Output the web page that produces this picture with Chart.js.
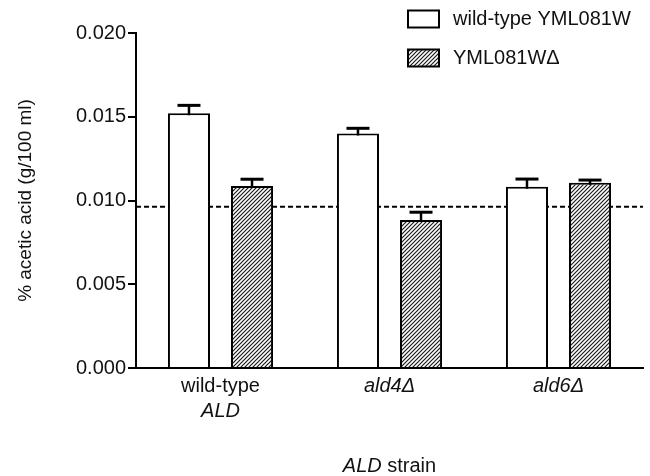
<!DOCTYPE html>
<html>
<head>
<meta charset="utf-8">
<script src="https://cdn.jsdelivr.net/npm/chart.js@4/dist/chart.umd.min.js"></script>
<style>
html,body{margin:0;padding:0;background:#fff;}
#wrap{width:650px;height:476px;position:relative;}
</style>
</head>
<body>
<div id="wrap"><canvas id="c" width="650" height="476"></canvas></div>
<script>
// ---- data ----
const categories = [['wild-type', 'ALD'], ['ald4Δ'], ['ald6Δ']];
const seriesNames = ['wild-type YML081W', 'YML081WΔ'];
const wildTypeValues = [0.01521, 0.01400, 0.01082];
const wildTypeErrors = [0.00047, 0.00031, 0.00046];
const deletionValues = [0.01087, 0.00884, 0.01106];
const deletionErrors = [0.00040, 0.00046, 0.00016];
const referenceLevel = 0.00963;
const yTickValues = [0.000, 0.005, 0.010, 0.015, 0.020];
const yTitle = '% acetic acid (g/100 ml)';
const xTitleParts = ['ALD', ' strain'];

const FAMILY = '"Liberation Sans", Arial, Helvetica, sans-serif';

function makeHatch() {
  const s = 4;
  const c = document.createElement('canvas');
  c.width = s; c.height = s;
  const g = c.getContext('2d');
  g.fillStyle = '#fff';
  g.fillRect(0, 0, s, s);
  g.strokeStyle = '#1a1a1a';
  g.lineWidth = 1.2;
  g.beginPath();
  g.moveTo(-1, 1); g.lineTo(1, -1);
  g.moveTo(0, s); g.lineTo(s, 0);
  g.moveTo(s - 1, s + 1); g.lineTo(s + 1, s - 1);
  g.stroke();
  return g.createPattern(c, 'repeat');
}

const ctx = document.getElementById('c').getContext('2d');
const hatch = makeHatch();
const errorSets = [wildTypeErrors, deletionErrors];

const overlay = {
  id: 'overlay',
  beforeDatasetsDraw(chart) {
    const { ctx, chartArea, scales } = chart;
    const y = scales.y.getPixelForValue(referenceLevel);
    ctx.save();
    ctx.strokeStyle = '#000';
    ctx.lineWidth = 2;
    ctx.setLineDash([5, 3]);
    ctx.beginPath();
    ctx.moveTo(chartArea.left, y);
    ctx.lineTo(chartArea.right, y);
    ctx.stroke();
    ctx.restore();
  },
  afterDatasetsDraw(chart) {
    const { ctx, scales } = chart;
    ctx.save();
    ctx.strokeStyle = '#000';
    chart.data.datasets.forEach((ds, di) => {
      const meta = chart.getDatasetMeta(di);
      meta.data.forEach((el, i) => {
        const top = scales.y.getPixelForValue(ds.data[i] + errorSets[di][i]);
        ctx.lineWidth = 2.5;
        ctx.beginPath();
        ctx.moveTo(el.x, el.y + 2);
        ctx.lineTo(el.x, top);
        ctx.stroke();
        ctx.lineWidth = 3;
        ctx.beginPath();
        ctx.moveTo(el.x - 11.5, top);
        ctx.lineTo(el.x + 11.5, top);
        ctx.stroke();
      });
    });
    ctx.restore();
  },
  afterDraw(chart) {
    const { ctx, chartArea, scales } = chart;
    ctx.save();
    ctx.fillStyle = '#111';
    ctx.textBaseline = 'middle';
    ctx.textAlign = 'center';
    // category labels
    categories.forEach((lines, i) => {
      const x = scales.x.getPixelForValue(i);
      lines.forEach((t, li) => {
        const italic = !(i === 0 && li === 0);
        ctx.font = (italic ? 'italic ' : '') + '20px ' + FAMILY;
        ctx.fillText(t, x, 386 + li * 25);
      });
    });
    // x title with mixed styles
    ctx.textAlign = 'left';
    const fonts = ['italic 20px ' + FAMILY, '20px ' + FAMILY];
    let total = 0;
    xTitleParts.forEach((t, k) => { ctx.font = fonts[k]; total += ctx.measureText(t).width; });
    let xx = (chartArea.left + chartArea.right) / 2 - total / 2;
    xTitleParts.forEach((t, k) => {
      ctx.font = fonts[k];
      ctx.fillText(t, xx, 466);
      xx += ctx.measureText(t).width;
    });
    // legend
    const legendY = [19, 58];
    chart.data.datasets.forEach((ds, di) => {
      const cy = legendY[di];
      ctx.fillStyle = ds.backgroundColor;
      ctx.fillRect(408, cy - 8.5, 31, 17);
      ctx.strokeStyle = '#000';
      ctx.lineWidth = 2;
      ctx.strokeRect(408, cy - 8.5, 31, 17);
      ctx.fillStyle = '#111';
      ctx.font = '20px ' + FAMILY;
      ctx.fillText(ds.label, 453, cy);
    });
    ctx.restore();
  }
};

new Chart(ctx, {
  type: 'bar',
  data: {
    labels: categories.map(l => l.join(' ')),
    datasets: [
      {
        label: seriesNames[0],
        data: wildTypeValues,
        backgroundColor: '#fff',
        borderColor: '#000',
        borderWidth: 2,
        barPercentage: 0.667,
        categoryPercentage: 0.746
      },
      {
        label: seriesNames[1],
        data: deletionValues,
        backgroundColor: hatch,
        borderColor: '#000',
        borderWidth: 2,
        barPercentage: 0.667,
        categoryPercentage: 0.746
      }
    ]
  },
  options: {
    responsive: false,
    animation: false,
    devicePixelRatio: 1,
    layout: { padding: { top: 33, right: 7, left: 0, bottom: 0 } },
    plugins: { legend: { display: false }, tooltip: { enabled: false } },
    scales: {
      x: {
        ticks: { display: false },
        grid: { display: true, drawOnChartArea: false, drawTicks: false },
        border: { display: true, color: '#000', width: 2 },
        afterFit(s) { s.height = 108; }
      },
      y: {
        min: 0,
        max: 0.02,
        afterBuildTicks(s) { s.ticks = yTickValues.map(v => ({ value: v })); },
        ticks: {
          color: '#111',
          padding: 2,
          font: { family: FAMILY, size: 20 },
          callback: v => Number(v).toFixed(3)
        },
        grid: { display: true, drawOnChartArea: false, drawTicks: true, tickLength: 8, color: '#000', lineWidth: 2 },
        border: { display: true, color: '#000', width: 2 },
        title: {
          display: true,
          text: yTitle,
          color: '#111',
          font: { family: FAMILY, size: 19 },
          padding: { top: 14, bottom: 0 }
        },
        afterFit(s) { s.width = 136; }
      }
    }
  },
  plugins: [overlay]
});
</script>
</body>
</html>
